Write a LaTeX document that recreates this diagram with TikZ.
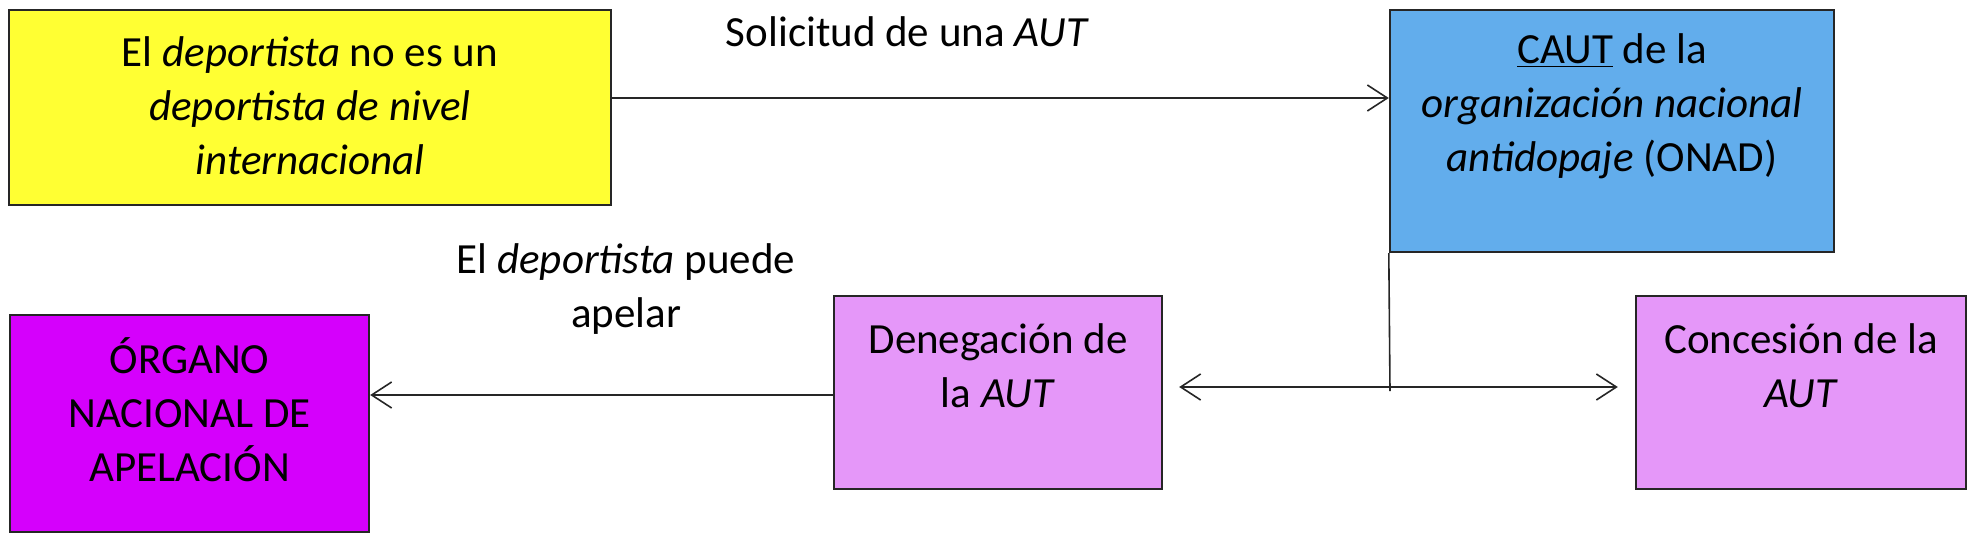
\documentclass[tikz,border=0pt]{standalone}
\usepackage{fontspec}
\setmainfont{Carlito}
\usepackage{tikz}
\usetikzlibrary{arrows.meta,positioning,calc}
\definecolor{autyellow}{HTML}{FFFF33}
\definecolor{autblue}{HTML}{62ADEC}
\definecolor{autviolet}{HTML}{E597F9}
\definecolor{autmagenta}{HTML}{D500FC}
\tikzset{
  box_base/.style={draw=black!85,line width=1.2pt,inner sep=0pt},
  box_yellow/.style={box_base,fill=autyellow,minimum width=301pt,minimum height=97.5pt},
  box_blue/.style={box_base,fill=autblue,minimum width=222pt,minimum height=121pt},
  box_violet/.style={box_base,fill=autviolet,minimum height=96.5pt},
  box_magenta/.style={box_base,fill=autmagenta,minimum width=179.5pt,minimum height=108.5pt},
  txt/.style={font=\fontsize{21.5}{27}\selectfont,align=center,inner sep=0pt},
  conn/.style={draw=black!85,line width=0.8pt},
  arr/.style={conn,-{Straight Barb[length=10pt,width=13pt,line width=0.8pt]}},
  arr_both/.style={conn,{Straight Barb[length=10pt,width=13pt,line width=0.8pt]}-{Straight Barb[length=10pt,width=13pt,line width=0.8pt]}},
}
\begin{document}
\begin{tikzpicture}[x=0.5pt,y=-0.5pt]
  \useasboundingbox (0,0) rectangle (1976,541);

  % boxes
  \node[box_yellow] (deportista) at (310,107.5) {};
  \node[box_blue] (caut) at (1612,131) {};
  \node[box_violet,minimum width=164pt] (denegacion) at (998,392.5) {};
  \node[box_violet,minimum width=165pt] (concesion) at (1801,392.5) {};
  \node[box_magenta] (organo) at (189.5,423.5) {};

  % texts, top aligned as in the boxes
  \node[txt] (deportista_txt) at ($(deportista.north)+(0,97)$)
    {El \textit{deportista} no es un\\ \textit{deportista de nivel}\\ \textit{internacional}};
  \node[txt] (caut_txt) at ($(caut.north)+(0,97)$)
    {\underline{CAUT} de la\\ \textit{organización nacional}\\ \textit{antidopaje} (ONAD)};
  \node[txt] (denegacion_txt) at ($(denegacion.north)+(0,71)$)
    {Denegación de\\ la \textit{AUT}};
  \node[txt] (concesion_txt) at ($(concesion.north)+(0,71)$)
    {Concesión de la\\ \textit{AUT}};
  \node[txt] (organo_txt) at ($(organo.north)+(0,96)$)
    {ÓRGANO\\ NACIONAL DE\\ APELACIÓN};

  % connectors
  \coordinate (solicitud) at ([yshift=4.75pt]deportista.east);
  \coordinate (apelar) at ([yshift=-1.25pt]denegacion.west);
  \coordinate (split) at (1390,387);

  \draw[arr] (solicitud) -- node[txt,pos=0.38,above=25pt] {Solicitud de una \textit{AUT}} (solicitud -| caut.west);
  \draw[conn] (caut.south west) -- ([yshift=-2pt]split);
  \draw[arr_both,shorten <=8pt,shorten >=8.5pt] (denegacion.east |- split) -- (concesion.west |- split);
  \draw[arr] (apelar) -- node[txt,pos=0.447,above=30pt] {El \textit{deportista} puede\\ apelar} (apelar -| organo.east);
\end{tikzpicture}
\end{document}
